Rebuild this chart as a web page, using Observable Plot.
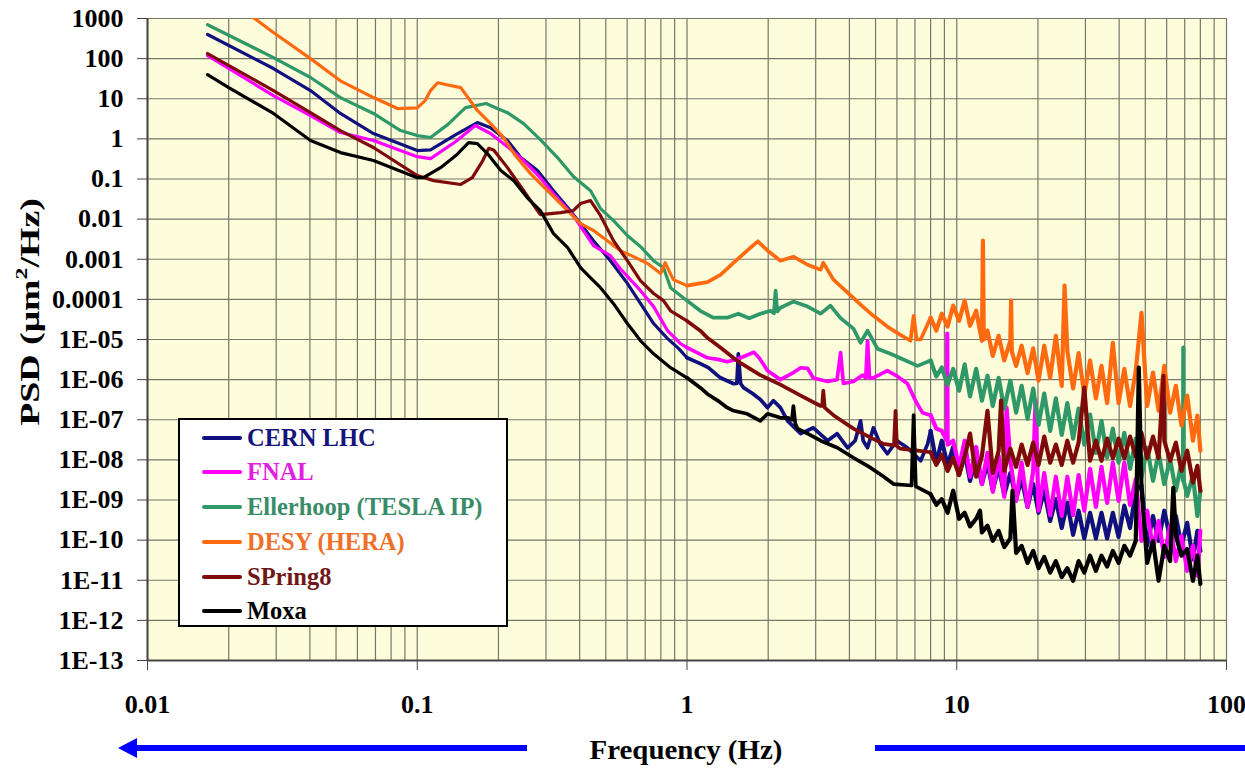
<!DOCTYPE html>
<html><head><meta charset="utf-8">
<script src="https://cdn.jsdelivr.net/npm/d3@7"></script>
<script src="https://cdn.jsdelivr.net/npm/@observablehq/plot@0.6"></script>
<style>
body{margin:0;background:#fff;}
#wrap{position:relative;width:1245px;height:770px;overflow:hidden;font-family:"Liberation Serif","Times New Roman",serif;font-weight:bold;}
#chart{position:absolute;left:0;top:0;}
#legend{position:absolute;left:178px;top:418px;width:330px;height:209px;box-sizing:border-box;border:2px solid #000;background:#fff;}
.row{position:absolute;left:0;height:30px;display:flex;align-items:center;font-size:24.5px;white-space:nowrap;}
.sw{display:inline-block;width:40px;height:4px;margin-left:22px;margin-right:5px;border-radius:2px;}
#ylab{position:absolute;left:30px;top:312px;transform:translate(-50%,-50%) rotate(-90deg) scaleX(1.4);font-size:27px;white-space:nowrap;}
#xlab{position:absolute;left:686px;top:750px;transform:translate(-50%,-50%) scaleX(1.07);font-size:27px;white-space:nowrap;}
#arrows{position:absolute;left:0;top:730px;}
</style></head>
<body>
<div id="wrap">
<div id="chart"></div>
<div id="legend"></div>
<div id="ylab">PSD (μm<sup style="font-size:17px;vertical-align:12px;line-height:0">2</sup>/Hz)</div>
<div id="xlab">Frequency (Hz)</div>
<svg id="arrows" width="1245" height="40">
  <line x1="134" y1="18" x2="527" y2="18" stroke="#0000ff" stroke-width="6"/>
  <polygon points="118,18 137,8 137,28" fill="#0000ff"/>
  <line x1="875" y1="18" x2="1245" y2="18" stroke="#0000ff" stroke-width="6"/>
</svg>
</div>
<script>
// ---- axis ticks ----
const xTickValues = [0.01, 0.1, 1, 10, 100];
const xTickLabels = ["0.01", "0.1", "1", "10", "100"];
const yTickValues = [1e-13,1e-12,1e-11,1e-10,1e-9,1e-8,1e-7,1e-6,1e-5,1e-4,1e-3,1e-2,0.1,1,10,100,1000];
const yTickLabels = ["1E-13","1E-12","1E-11","1E-10","1E-09","1E-08","1E-07","1E-06","1E-05","0.0001","0.001","0.01","0.1","1","10","100","1000"];

// ---- series names / colours ----
const seriesNames = ["CERN LHC", "FNAL", "Ellerhoop (TESLA IP)", "DESY (HERA)", "SPring8", "Moxa"];
const seriesColors = ["#10107e", "#ff00ff", "#2f9868", "#ff6a10", "#7f0a0a", "#000000"];
const legendTextColors = ["#14147a", "#e21ee2", "#3a8c68", "#f0702a", "#701818", "#000000"];

// ---- data: [frequency Hz, PSD um^2/Hz] ----
const cernLHC = [[0.0167,400],[0.0293,56.6],[0.0402,16],[0.0519,4.3],[0.0688,1.36],[0.1,0.51],[0.112,0.53],[0.139,1.28],[0.167,2.55],[0.187,1.9],[0.216,0.91],[0.242,0.342],[0.279,0.162],[0.32,0.051],[0.361,0.0194],[0.403,0.0077],[0.45,0.0029],[0.52,9.2e-4],[0.601,2.5e-4],[0.673,7.8e-5],[0.752,2.5e-5],[0.847,1.05e-5],[0.93,6e-6],[1.0,3.5e-6],[1.12,2.5e-6],[1.2,2.0e-6],[1.33,1.11e-6],[1.49,7.9e-7],[1.53,8e-7],[1.55,4.4e-6],[1.58,8e-7],[1.62,6.3e-7],[1.75,4.5e-7],[1.87,3.2e-7],[1.99,2.0e-7],[2.09,3.0e-7],[2.22,2.0e-7],[2.36,9.4e-8],[2.64,4.5e-8],[2.94,6.3e-8],[3.32,3.0e-8],[3.6,4.5e-8],[3.94,2.0e-8],[4.2,3e-8],[4.4,9.4e-8],[4.5,3e-8],[4.67,2.0e-8],[4.91,6.3e-8],[5.2,2.5e-8],[5.53,1.42e-8],[6.0,3e-8],[6.56,2.0e-8],[7.35,9.5e-9],[7.8,2.5e-8],
[8.0,5.3e-8],[8.4,8.5e-9],[8.8,3.0e-8],[9.25,7.5e-9],[9.7,2.1e-8],[10.2,4.2e-9],[10.7,1.5e-8],[11.2,3.0e-9],[11.8,1.1e-8],[12.4,2.5e-9],[13.0,8.5e-9],[13.6,1.7e-9],[14.3,6.7e-9],[15.0,1.35e-9],[15.8,4.7e-9],[16.6,1.05e-9],[17.4,3.4e-9],[18.3,6.7e-10],[19.2,2.5e-9],[20.1,4.8e-10],[21.1,1.7e-9],[22.2,3.0e-10],[23.3,1.05e-9],[24.5,2.0e-10],[25.7,8.5e-10],[27.0,1.35e-10],[28.3,5.4e-10],[29.7,1.1e-10],[31.2,4.8e-10],[32.8,1.1e-10],[34.4,4.8e-10],[36.1,1.1e-10],[37.9,4.8e-10],[39.8,1.2e-10],[41.8,7.2e-10],[43.9,2.0e-10],[46.1,1.7e-9],[48.4,2.3e-9],[50.8,7.2e-11],[53.4,4.0e-10],[56.0,9.6e-11],[58.8,5.4e-10],[61.8,1.1e-10],[64.9,4.0e-10],[68.1,7.2e-11],[71.5,2.7e-10],[75.1,3.3e-11],[78.0,1.7e-10],[80.0,5.4e-11]];

const fnal = [[0.0167,119],[0.0293,12],[0.0402,3.8],[0.0519,1.44],[0.0688,0.91],[0.1,0.36],[0.112,0.323],[0.139,0.86],[0.164,2.15],[0.187,1.36],[0.216,0.64],[0.248,0.288],[0.286,0.108],[0.32,0.043],[0.379,0.0122],[0.45,0.0022],[0.52,0.00123],[0.566,5.8e-4],[0.673,1.65e-4],[0.752,6.6e-5],[0.847,1.66e-5],[0.946,7.9e-6],[1.0,6.3e-6],[1.09,4.7e-6],[1.19,3.5e-6],[1.3,3.2e-6],[1.41,2.8e-6],[1.55,3.3e-6],[1.77,4.8e-6],[1.85,3.5e-6],[1.99,1.67e-6],[2.22,1.0e-6],[2.48,1.5e-6],[2.64,1.98e-6],[2.8,1.9e-6],[2.94,1.1e-6],[3.32,9e-7],[3.6,1.0e-6],[3.71,4.7e-6],[3.8,8e-7],[4.14,9e-7],[4.48,1.3e-6],[4.6,1.1e-6],[4.67,9.3e-6],[4.75,1.1e-6],[4.91,1.1e-6],[5.53,1.67e-6],[6.03,1.2e-6],[6.56,8e-7],[7.03,3.0e-7],[7.46,1.5e-7],
[8.0,1.3e-7],[8.4,6e-8],[8.8,5.3e-8],[9.2,3e-8],[9.22,1.4e-5],[9.25,2.4e-8],[9.7,3.0e-8],[10.2,6.7e-9],[10.7,3.0e-8],[11.2,3.8e-9],[11.8,2.1e-8],[12.4,2.5e-9],[13.0,1.5e-8],[13.6,1.6e-9],[14.3,1.26e-8],[15.0,1.2e-9],[15.3,2.0e-7],[15.8,9.5e-9],[16.6,9.5e-10],[17.4,8.5e-9],[18.3,6.7e-10],[19.2,5.3e-9],[19.6,3e-7],[20.1,5.4e-10],[21.1,4.7e-9],[22.2,4.2e-10],[23.3,3.8e-9],[24.5,4.0e-10],[25.7,3.8e-9],[27.0,4.2e-10],[28.3,4.2e-9],[29.7,5.4e-10],[31.2,6e-9],[32.8,6.7e-10],[34.4,6.7e-9],[36.1,8.5e-10],[37.9,8.5e-9],[39.8,9.5e-10],[41.8,8.5e-9],[43.9,7.5e-10],[46.1,3.3e-9],[48.4,9.6e-11],[50.8,5.4e-10],[53.4,6e-11],[56.0,3.0e-10],[58.8,3.8e-11],[61.8,2.3e-10],[64.9,3.0e-11],[68.1,1.28e-10],[71.5,1.71e-11],[75.1,7.2e-11],[78.0,1.29e-11],[80.0,1.7e-10]];

const ellerhoop = [[0.0167,700],[0.0293,106],[0.0402,33.8],[0.0519,10.7],[0.0688,4.3],[0.0867,1.61],[0.1,1.21],[0.112,1.08],[0.13,2.3],[0.151,6.0],[0.18,7.6],[0.198,5.7],[0.216,4.5],[0.248,2.4],[0.286,0.96],[0.331,0.342],[0.379,0.115],[0.439,0.051],[0.478,0.0183],[0.534,0.0092],[0.601,0.0039],[0.673,0.00206],[0.752,9.2e-4],[0.818,6.2e-4],[0.869,1.96e-4],[1.0,9.3e-5],[1.12,5.2e-5],[1.25,3.5e-5],[1.41,3.5e-5],[1.55,4.4e-5],[1.7,3.4e-5],[1.87,4.4e-5],[2.04,5.2e-5],[2.1,4.5e-5],[2.13,1.65e-4],[2.16,5e-5],[2.22,6.2e-5],[2.48,8.8e-5],[2.8,6.6e-5],[3.13,4.4e-5],[3.4,7e-5],[3.71,3.4e-5],[4.14,1.86e-5],[4.4,8.3e-6],[4.67,1.66e-5],[5.08,5.9e-6],[5.68,4.4e-6],[6.46,3.0e-6],[7.16,2.2e-6],
[8.0,3.0e-6],[8.4,1.2e-6],[8.8,2.0e-6],[9.25,7.5e-7],[9.7,1.85e-6],[10.2,5.3e-7],[10.7,2.4e-6],[11.2,3.8e-7],[11.8,1.85e-6],[12.4,3.0e-7],[13.0,1.25e-6],[13.6,2.2e-7],[14.3,1.1e-6],[15.0,1.9e-7],[15.8,9.4e-7],[16.6,1.5e-7],[17.4,7.0e-7],[18.3,1.05e-7],[19.2,6e-7],[20.1,7.5e-8],[21.1,4.5e-7],[22.2,5.3e-8],[23.3,3.4e-7],[24.5,4.2e-8],[25.7,2.6e-7],[27.0,3.4e-8],[28.3,1.9e-7],[29.7,2.4e-8],[31.2,1.35e-7],[32.8,1.5e-8],[34.4,9.4e-8],[36.1,1.15e-8],[37.9,6e-8],[39.8,8.5e-9],[41.8,4.7e-8],[43.9,6e-9],[46.1,3.4e-8],[48.4,3.7e-9],[50.8,2.0e-8],[53.4,3.0e-9],[56.0,1.5e-8],[58.8,2.5e-9],[61.8,1.05e-8],[64.9,1.7e-9],[68.1,8.5e-9],[69.0,3e-9],[69.2,6.3e-6],[69.4,3e-9],[71.5,1.27e-9],[75.1,4.0e-9],[78.0,4.0e-10],[80.0,1.7e-9]];

const desy = [[0.0167,5500],[0.0241,1190],[0.0293,448],[0.0402,100],[0.0519,28],[0.0688,10.7],[0.0845,5.7],[0.1,5.9],[0.107,9],[0.112,16],[0.119,25],[0.13,22],[0.145,19],[0.167,5.1],[0.187,2.4],[0.209,1.08],[0.231,0.384],[0.263,0.136],[0.304,0.051],[0.361,0.0163],[0.403,0.0077],[0.45,0.0052],[0.507,0.0029],[0.566,0.00164],[0.634,0.00116],[0.715,7.8e-4],[0.798,4.4e-4],[0.83,8.2e-4],[0.89,3.1e-4],[1.0,2.2e-4],[1.19,2.7e-4],[1.33,4.1e-4],[1.49,8.2e-4],[1.67,0.00164],[1.83,0.0028],[1.99,0.00164],[2.22,9.2e-4],[2.48,0.00116],[2.8,7.3e-4],[3.13,5.5e-4],[3.2,8.2e-4],[3.49,3.1e-4],[3.94,1.47e-4],[4.4,7.4e-5],[4.91,3.9e-5],[5.53,2.1e-5],[6.18,1.3e-5],[6.74,9.3e-6],[6.92,3.9e-5],[7.1,1.0e-5],[7.35,1.0e-5],
[8.0,3.5e-5],[8.4,1.66e-5],[8.8,4.4e-5],[9.25,2.1e-5],[9.7,7.0e-5],[10.2,2.9e-5],[10.7,9.3e-5],[11.2,2.2e-5],[11.8,5.2e-5],[12.4,9.3e-6],[12.5,0.0029],[12.6,1.0e-5],[13.0,1.66e-5],[13.6,3.9e-6],[14.3,1.24e-5],[15.0,3.0e-6],[15.8,9.3e-6],[15.9,9.3e-5],[16.0,5e-6],[16.6,2.2e-6],[17.4,7.0e-6],[18.3,1.45e-6],[19.2,6e-6],[20.1,9.4e-7],[21.1,7.0e-6],[22.2,1.1e-6],[23.3,1.24e-5],[24.5,7.0e-7],[25.1,2.2e-4],[25.7,5.2e-6],[27.0,6e-7],[28.3,4.6e-6],[29.7,4.0e-7],[31.2,3.0e-6],[32.8,3.4e-7],[34.4,2.2e-6],[36.1,2.6e-7],[37.9,8.3e-6],[39.8,2.6e-7],[41.8,1.85e-6],[43.9,2.2e-7],[46.1,1.67e-6],[48.4,4.6e-5],[50.8,2.2e-7],[53.4,1.5e-6],[56.0,1.67e-7],[58.8,2.2e-6],[61.8,1.5e-7],[64.9,7.0e-7],[68.1,7.1e-8],[71.5,4.0e-7],[75.1,3.0e-8],[78.0,1.26e-7],[80.0,1.69e-8]];

const spring8 = [[0.0167,134],[0.0293,16],[0.0402,4.5],[0.0519,1.61],[0.0688,0.61],[0.1,0.122],[0.115,0.091],[0.145,0.073],[0.16,0.108],[0.175,0.288],[0.184,0.58],[0.192,0.53],[0.216,0.192],[0.248,0.051],[0.279,0.0163],[0.286,0.0129],[0.34,0.0145],[0.379,0.0163],[0.403,0.0244],[0.439,0.029],[0.478,0.0122],[0.534,0.0029],[0.601,9.2e-4],[0.673,2.9e-4],[0.752,1.4e-4],[0.818,9.3e-5],[0.869,5.2e-5],[1.0,2.9e-5],[1.12,1.66e-5],[1.19,1.1e-5],[1.33,6.3e-6],[1.55,2.8e-6],[1.87,1.3e-6],[2.22,7.5e-7],[2.64,4.0e-7],[3.13,2.2e-7],[3.17,2.2e-7],[3.2,5.3e-7],[3.24,2e-7],[3.49,1.3e-7],[4.14,6.0e-8],[4.79,3.6e-8],[5.35,2.5e-8],[5.85,2.3e-8],[5.93,1.67e-7],[6.0,2.2e-8],[6.18,1.9e-8],[7.16,1.7e-8],
[8.0,1.55e-8],[8.4,7.5e-9],[8.8,1.35e-8],[9.25,5.3e-9],[9.7,1.1e-8],[10.2,4.2e-9],[10.7,1.2e-8],[11.2,4.5e-8],[11.8,3.8e-9],[12.4,1.26e-8],[13.0,1.67e-7],[13.6,4.7e-9],[14.3,1.69e-8],[14.6,3.0e-7],[15.0,5.3e-9],[15.8,1.9e-8],[16.6,6.7e-9],[17.4,2.4e-8],[18.3,7.5e-9],[19.2,2.7e-8],[20.1,7.5e-9],[21.1,3.8e-8],[22.2,8.5e-9],[23.3,2.4e-8],[24.5,7.5e-9],[25.7,3.0e-8],[27.0,8.5e-9],[28.3,2.7e-8],[29.7,6.3e-7],[31.2,9.5e-9],[32.8,3.0e-8],[34.4,9.5e-9],[36.1,3.4e-8],[37.9,1.1e-8],[39.8,3.4e-8],[41.8,1.1e-8],[43.9,3.8e-8],[46.1,1.2e-8],[48.4,4.7e-8],[50.8,1.1e-8],[53.4,3.8e-8],[56.0,1.1e-8],[58.4,1.25e-6],[58.8,3.0e-8],[61.8,9.5e-9],[64.9,2.7e-8],[68.1,5.3e-9],[71.5,1.69e-8],[75.1,2.7e-9],[78.0,7.1e-9],[80.0,1.7e-9]];

const moxa = [[0.0167,40],[0.02,19],[0.0293,4.3],[0.0402,0.91],[0.0519,0.455],[0.0688,0.288],[0.1,0.108],[0.1054,0.108],[0.122,0.192],[0.139,0.384],[0.155,0.81],[0.167,0.764],[0.182,0.43],[0.204,0.162],[0.228,0.091],[0.256,0.034],[0.286,0.0163],[0.32,0.00435],[0.361,0.00195],[0.403,6.2e-4],[0.44,3.4e-4],[0.478,1.96e-4],[0.534,7.8e-5],[0.601,2.5e-5],[0.673,9.3e-6],[0.752,4.4e-6],[0.869,1.98e-6],[1.0,1.11e-6],[1.12,6.3e-7],[1.19,4.4e-7],[1.3,3.0e-7],[1.41,2.0e-7],[1.49,1.67e-7],[1.67,1.41e-7],[1.87,9.4e-8],[1.99,1.41e-7],[2.22,1.12e-7],[2.36,1.12e-7],[2.45,1.0e-7],[2.48,2.2e-7],[2.52,8e-8],[2.57,6.0e-8],[2.8,4.5e-8],[3.13,3.0e-8],[3.61,2.0e-8],[4.14,1.13e-8],[4.79,6.4e-9],[5.3,4.0e-9],[5.83,2.5e-9],[6.8,2.3e-9],[6.92,1.3e-7],[7.05,2.2e-9],
[8.0,1.4e-9],[8.4,7.6e-10],[8.8,1.05e-9],[9.25,4.8e-10],[9.7,1.7e-9],[10.2,3.4e-10],[10.7,4.8e-10],[11.2,2.2e-10],[11.8,3.4e-10],[12.2,5.4e-10],[12.4,1.55e-10],[13.0,2.3e-10],[13.6,9.6e-11],[14.3,1.7e-10],[15.0,6.7e-11],[15.8,1.1e-10],[16.1,1.7e-9],[16.6,4.8e-11],[17.4,7.2e-11],[18.3,2.7e-11],[19.2,5.4e-11],[20.1,2.0e-11],[21.1,3.8e-11],[22.2,1.55e-11],[23.3,3.0e-11],[24.5,1.2e-11],[25.7,2.0e-11],[27.0,9.7e-12],[28.3,3.0e-11],[29.7,1.55e-11],[31.2,4.1e-11],[32.8,1.71e-11],[34.4,4.1e-11],[36.1,2.2e-11],[37.9,5.4e-11],[39.8,2.7e-11],[41.8,7.2e-11],[43.9,4.1e-11],[46.1,9.6e-11],[47.3,1.98e-6],[48.4,2.0e-9],[50.8,2.7e-11],[53.4,9.6e-11],[56.0,9.7e-12],[58.8,7.2e-11],[61.8,3.0e-11],[63.5,2.0e-9],[64.9,1.28e-10],[68.1,4.1e-11],[71.5,6e-11],[75.1,9.7e-12],[78.0,4.1e-11],[80.0,8.1e-12]];

const seriesData = [cernLHC, fnal, ellerhoop, desy, spring8, moxa];

// x grid: 1..9 in each decade
const xGrid = [];
for (const dec of [0.01, 0.1, 1, 10]) for (let k = 1; k <= 9; k++) xGrid.push(dec * k);
xGrid.push(100);

// smooth low-frequency part thinner; noisier mid and high frequency parts heavier
const lineMarks = seriesData.flatMap((data, i) => [
  Plot.line(data, {filter: d => d[0] <= 1.0, x: d => d[0], y: d => d[1], stroke: seriesColors[i], strokeWidth: 3.2, strokeLinejoin: "round", strokeLinecap: "round", clip: true}),
  Plot.line(data, {filter: d => d[0] >= 1.0 && d[0] <= 8, x: d => d[0], y: d => d[1], stroke: seriesColors[i], strokeWidth: 3.7, strokeLinejoin: "round", strokeLinecap: "round", clip: true}),
  Plot.line(data, {filter: d => d[0] >= 8, x: d => d[0], y: d => d[1], stroke: seriesColors[i], strokeWidth: 4.2, strokeLinejoin: "round", strokeLinecap: "round", clip: true})
]);

const chart = Plot.plot({
  width: 1245, height: 720,
  marginLeft: 147, marginRight: 19, marginTop: 18, marginBottom: 60,
  style: {fontFamily: '"Liberation Serif", "Times New Roman", serif', fontWeight: "bold", fontSize: "26px", background: "transparent", color: "#000", overflow: "visible"},
  x: {type: "log", domain: [0.01, 100]},
  y: {type: "log", domain: [1e-13, 1000]},
  marks: [
    Plot.frame({fill: "#fdfcdb", stroke: null}),
    Plot.ruleX(xGrid, {stroke: "#77776a", strokeWidth: 1.2}),
    Plot.ruleY(yTickValues, {stroke: "#77776a", strokeWidth: 1.2}),
    ...lineMarks,
    Plot.ruleX([0.01], {stroke: "#444", strokeWidth: 2}),
    Plot.ruleY([1e-13], {stroke: "#444", strokeWidth: 2}),
    Plot.axisX(xTickValues, {tickSize: 10, tickPadding: 24, stroke: "#444", tickFormat: d => xTickLabels[xTickValues.indexOf(d)], label: null, fontSize: 26}),
    Plot.axisY(yTickValues, {tickSize: 10, tickPadding: 14, stroke: "#444", tickFormat: d => yTickLabels[yTickValues.indexOf(d)], label: null, fontSize: 26})
  ]
});
document.getElementById("chart").appendChild(chart);

// legend
const legend = document.getElementById("legend");
const rowCenters = [18, 52, 87, 122, 157, 191];
seriesNames.forEach((name, i) => {
  const row = document.createElement("div");
  row.className = "row";
  row.style.top = (rowCenters[i] - 15) + "px";
  const sw = document.createElement("span");
  sw.className = "sw";
  sw.style.background = seriesColors[i];
  const t = document.createElement("span");
  t.textContent = name;
  t.style.color = legendTextColors[i];
  row.appendChild(sw); row.appendChild(t);
  legend.appendChild(row);
});
</script>
</body></html>
